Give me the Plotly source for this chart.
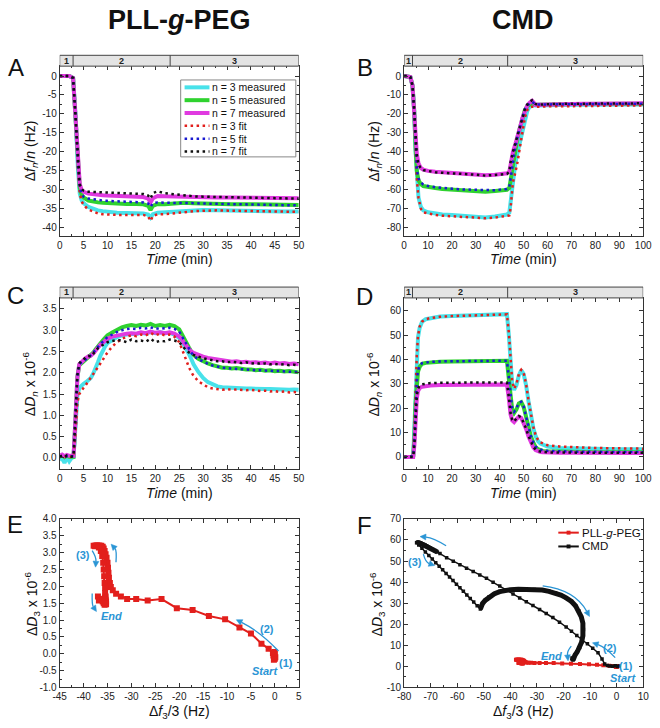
import plotly.graph_objects as go

W, H = 660, 728
def px(v): return v / W
def py(v): return 1 - v / H

# ---------------- DATA ----------------
phases_pll = [0, 2.8, 23.1, 50]
phases_cmd = [0, 3.5, 43.3, 100]

# Panel A: PLL-g-PEG frequency (Hz)
ta = [0, 1, 2, 2.8, 3.3, 3.8, 4.2, 4.6, 5, 6, 7, 8, 9, 10, 12, 14, 16, 17.5, 18.5, 19, 19.5,
      20.5, 22, 24, 26, 28, 30, 33, 36, 40, 44, 47, 50]
a_n3_meas = [0, 0, 0, -0.5, -10, -24, -31, -32.8, -33.5, -34.5, -35, -35.4, -35.6, -35.8, -36, -36.1, -36.1,
             -36.2, -36.5, -37.3, -36.4, -36.0, -35.9, -35.7, -35.5, -35.4, -35.3, -35.4, -35.5, -35.5, -35.6, -35.7, -35.7]
a_n5_meas = [0, 0, 0, -0.5, -10, -23, -29.5, -31.3, -32, -32.8, -33.1, -33.3, -33.4, -33.5, -33.6, -33.7, -33.7,
             -33.8, -34.2, -35.3, -34.2, -33.7, -33.8, -33.6, -33.4, -33.5, -33.6, -33.7, -33.8, -33.8, -33.9, -34.0, -34.0]
a_n7_meas = [0, 0, 0, -0.5, -10, -22, -28.5, -30, -30.5, -31, -31.2, -31.3, -31.4, -31.5, -31.6, -31.7, -31.8,
             -31.9, -32.3, -33.3, -32.2, -31.6, -31.7, -31.8, -31.8, -31.9, -31.9, -32.0, -32.0, -32.1, -32.1, -32.2, -32.2]
a_n3_fit = [0, 0, 0, -0.5, -10, -24, -31, -33, -34, -35.2, -35.8, -36.2, -36.4, -36.5, -36.6, -36.6, -36.5,
            -36.6, -37.0, -38.2, -36.9, -36.4, -36.4, -36.2, -35.9, -35.6, -35.5, -35.4, -35.5, -35.6, -35.8, -35.8, -35.8]
a_n5_fit = [0, 0, 0, -0.5, -10, -23, -29.5, -31, -31.8, -32.3, -32.5, -32.7, -32.8, -32.9, -33.0, -33.1, -33.2,
            -33.3, -33.6, -34.5, -33.5, -33.3, -33.4, -33.4, -33.4, -33.5, -33.6, -33.7, -33.8, -33.9, -34.0, -34.0, -34.1]
a_n7_fit = [0, 0, 0, -0.5, -10, -22, -28.5, -29.8, -30.2, -30.5, -30.5, -30.5, -30.6, -30.7, -30.8, -30.9, -31.0,
            -31.1, -31.5, -32.3, -30.8, -30.4, -30.9, -31.2, -31.5, -31.7, -31.8, -31.9, -32.0, -32.1, -32.2, -32.2, -32.3]

# Panel B: CMD frequency (Hz)
tb = [0, 1, 2, 2.6, 3.5, 4.2, 4.8, 5.3, 6, 7, 8, 10, 13, 16, 20, 25, 30, 34, 38, 41, 43, 44, 44.5, 45.5,
      46.5, 47.5, 48.5, 49.5, 50.5, 51.5, 52.5, 53.5, 55, 57, 60, 65, 70, 75, 80, 85, 90, 95, 100]
b_n3_meas = [0, 0, 0, -0.5, -5, -18, -40, -55, -64, -69, -70.8, -71.8, -72.6, -73, -73.2, -73.5, -74, -74.5, -74,
             -73.3, -73, -72, -66, -53, -46, -40, -34, -28, -22.5, -18.5, -16, -15.3, -15.5, -15.4, -15.3, -15.2,
             -15.2, -15.1, -15.1, -15.0, -15.0, -15.0, -15.0]
b_n5_meas = [0, 0, 0, -0.5, -5, -18, -38, -50, -55, -57, -58, -58.6, -59, -59.5, -59.8, -60.2, -60.5, -61, -60.6,
             -60.2, -60, -59, -55, -45, -38, -32, -27, -22, -18, -16, -14.8, -14, -15.2, -15.1, -15.0, -14.9,
             -14.8, -14.8, -14.7, -14.7, -14.7, -14.6, -14.6]
b_n7_meas = [0, 0, 0, -0.5, -5, -18, -32, -41, -46, -48.5, -49.3, -50, -50.5, -50.8, -51, -51.3, -51.8, -52.3, -52,
             -51.5, -51.3, -50.5, -46, -40, -36, -32, -27, -22, -18, -15.5, -14, -13, -15.2, -15.1, -14.9, -14.8,
             -14.7, -14.6, -14.6, -14.5, -14.5, -14.5, -14.4]
b_n3_fit = [0, 0, 0, -0.5, -5, -17, -38, -54, -64, -70, -71.8, -72.5, -73.2, -73.6, -74, -74.3, -74.6, -75, -74.6,
            -74, -73.8, -73.5, -70, -56, -51, -45, -37, -29, -22, -18, -16.5, -16.2, -16.3, -16.2, -16.0, -15.9,
            -15.8, -15.8, -15.7, -15.6, -15.6, -15.5, -15.5]
b_n5_fit = [0, 0, 0, -0.5, -5, -18, -37, -49, -54, -56, -57.2, -58, -58.6, -59, -59.4, -59.8, -60, -60.4, -60.2,
            -59.8, -59.6, -58.5, -54, -44.5, -37.5, -31.5, -26.5, -21.5, -17.5, -15.5, -14.5, -13.6, -15, -15,
            -14.9, -14.9, -14.8, -14.8, -14.7, -14.7, -14.7, -14.6, -14.6]
b_n7_fit = [0, 0, 0, -0.5, -5, -18, -32, -41.5, -46.5, -48.8, -49.6, -50.2, -50.7, -51, -51.2, -51.6, -52, -52.5,
            -52.2, -51.8, -51.6, -50.5, -45.5, -40, -35.5, -31.5, -26.5, -21.5, -17.5, -15, -13.5, -12.8, -14.8,
            -15.0, -14.8, -14.7, -14.6, -14.6, -14.5, -14.5, -14.4, -14.4, -14.4]

# Panel C: PLL-g-PEG dissipation (x 1e-6)
tc = [0, 0.5, 1, 1.5, 2, 2.5, 2.9, 3.3, 3.7, 4.1, 4.5, 5, 5.5, 6, 6.5, 7, 7.5, 8, 8.5, 9, 9.5, 10,
      11, 12, 13, 14, 15, 16, 17, 18, 19, 20, 21, 22, 23, 24, 25, 25.5, 26, 26.5, 27, 27.5, 28,
      29, 30, 31, 32, 33, 34, 35, 36, 37, 38, 39, 40, 41, 42, 43, 44, 45, 46, 47, 48, 49, 50]
c_n3_meas = [-0.05, 0.0, -0.12, 0.02, -0.08, 0.0, 0.02, 0.7, 1.45, 1.65, 1.7,
             1.74, 1.78, 1.82, 1.88, 1.98, 2.1, 2.25, 2.4, 2.53, 2.62, 2.7,
             2.78, 2.84, 2.88, 2.9, 2.92, 2.91, 2.94, 2.92, 2.96, 2.93, 2.95, 2.93, 2.94, 2.9, 2.82,
             2.75, 2.66, 2.56, 2.45, 2.33, 2.2,
             2.02, 1.88, 1.78, 1.72, 1.68, 1.66, 1.65, 1.64, 1.65, 1.64, 1.63, 1.63, 1.62, 1.63, 1.62,
             1.62, 1.61, 1.62, 1.61, 1.6, 1.61, 1.6]
c_n5_meas = [0.03, 0.06, 0.02, 0.05, 0.03, 0.04, 0.03, 0.9, 1.9, 2.18, 2.22,
             2.26, 2.3, 2.35, 2.4, 2.47, 2.55, 2.63, 2.7, 2.76, 2.82, 2.88,
             2.95, 3.02, 3.07, 3.1, 3.12, 3.1, 3.13, 3.11, 3.15, 3.1, 3.12, 3.1, 3.13, 3.1, 3.02,
             2.92, 2.8, 2.7, 2.6, 2.5, 2.42,
             2.33, 2.27, 2.22, 2.18, 2.15, 2.12, 2.12, 2.1, 2.11, 2.09, 2.08, 2.08, 2.06, 2.07, 2.05,
             2.06, 2.04, 2.05, 2.03, 2.04, 2.02, 2.01]
c_n7_meas = [0.05, 0.08, 0.04, 0.07, 0.05, 0.06, 0.05, 0.9, 1.9, 2.2, 2.25,
             2.3, 2.35, 2.38, 2.4, 2.45, 2.52, 2.6, 2.66, 2.7, 2.75, 2.8,
             2.85, 2.88, 2.9, 2.92, 2.93, 2.92, 2.95, 2.93, 2.97, 2.94, 2.95, 2.93, 2.95, 2.92, 2.85,
             2.8, 2.7, 2.62, 2.55, 2.5, 2.47,
             2.42, 2.38, 2.35, 2.33, 2.3, 2.28, 2.28, 2.26, 2.27, 2.25, 2.26, 2.24, 2.25, 2.23, 2.24,
             2.22, 2.24, 2.22, 2.23, 2.21, 2.22, 2.2]
c_n3_fit = [0.02, 0.04, 0.0, 0.05, 0.02, 0.03, 0.03, 0.6, 1.3, 1.5, 1.58,
            1.65, 1.72, 1.8, 1.88, 1.95, 2.03, 2.12, 2.2, 2.3, 2.4, 2.48,
            2.62, 2.72, 2.8, 2.85, 2.88, 2.86, 2.9, 2.88, 2.94, 2.88, 2.92, 2.88, 2.9, 2.85, 2.72,
            2.58, 2.42, 2.28, 2.14, 2.02, 1.93,
            1.8, 1.72, 1.66, 1.63, 1.62, 1.6, 1.62, 1.6, 1.61, 1.6, 1.59, 1.6, 1.58, 1.57, 1.58,
            1.56, 1.57, 1.55, 1.56, 1.54, 1.55, 1.53]
c_n5_fit = [0.02, 0.05, 0.03, 0.04, 0.02, 0.04, 0.03, 0.9, 1.92, 2.2, 2.24,
            2.28, 2.32, 2.36, 2.41, 2.47, 2.54, 2.62, 2.68, 2.73, 2.78, 2.84,
            2.9, 2.96, 3.0, 3.03, 3.04, 3.03, 3.06, 3.04, 3.07, 3.03, 3.05, 3.04, 3.06, 3.03, 2.97,
            2.88, 2.77, 2.67, 2.58, 2.48, 2.4,
            2.32, 2.26, 2.21, 2.17, 2.14, 2.12, 2.11, 2.1, 2.1, 2.08, 2.08, 2.07, 2.06, 2.06, 2.05,
            2.05, 2.04, 2.04, 2.03, 2.03, 2.02, 2.02]
c_n7_fit = [0.03, 0.05, 0.02, 0.06, 0.04, 0.03, 0.04, 0.9, 1.95, 2.22, 2.28,
            2.32, 2.36, 2.4, 2.38, 2.45, 2.5, 2.58, 2.62, 2.66, 2.68, 2.72,
            2.75, 2.77, 2.76, 2.72, 2.78, 2.74, 2.76, 2.73, 2.8, 2.72, 2.75, 2.74, 2.78, 2.76, 2.72,
            2.65, 2.58, 2.52, 2.48, 2.45, 2.42,
            2.38, 2.34, 2.32, 2.3, 2.27, 2.27, 2.25, 2.26, 2.24, 2.23, 2.25, 2.22, 2.23, 2.21, 2.22,
            2.2, 2.21, 2.19, 2.2, 2.18, 2.19, 2.17]

# Panel D: CMD dissipation (x 1e-6)
td = [0, 1, 2, 3, 3.8, 4.3, 4.8, 5.3, 5.8, 6.5, 7.5, 9, 11, 15, 20, 25, 30, 35, 40, 43, 43.8, 44.5, 45.2,
      46, 47, 48, 49, 50, 51, 52, 53, 54, 55, 56, 57, 58, 60, 65, 70, 75, 80, 85, 90, 95, 100]
d_n3_meas = [0, 0, 0, 0, 0.5, 12, 30, 42, 49, 53, 55.5, 56.5, 57, 57.6, 57.8, 58, 58.2, 58.3, 58.5, 58.6,
             50, 38, 30, 27.5, 29.5, 33.5, 35.6, 34, 29.5, 23, 17, 12, 8.5, 6.5, 5.5, 5, 4.3, 3.7, 3.5, 3.4,
             3.3, 3.3, 3.2, 3.2, 3.2]
d_n5_meas = [0, 0, 0, 0, 0.5, 8, 22, 31, 35, 37, 38.2, 38.6, 38.9, 39.1, 39.2, 39.3, 39.4, 39.4, 39.5, 39.5,
             32, 24, 19.5, 18, 19.5, 22, 22.5, 20.5, 16, 12, 8.5, 6, 4, 3.2, 2.8, 2.5, 2.3, 2.1, 2.0, 2.0,
             1.9, 1.9, 1.9, 1.9, 1.9]
d_n7_meas = [0, 0, 0, 0, 0, 5, 17, 24, 27, 28.3, 28.8, 29.1, 29.3, 29.5, 29.6, 29.7, 29.7, 29.7, 29.7, 29.7,
             24, 17.5, 15, 14.3, 15.5, 16.5, 16, 14, 11.5, 8.5, 6, 4, 2.8, 2.2, 2.0, 1.9, 1.8, 1.7, 1.7, 1.6,
             1.6, 1.6, 1.6, 1.6, 1.6]
d_n3_fit = [0, 0, 0, 0, 0.3, 11, 29, 42, 49.5, 53.5, 55.5, 56.5, 57, 57.5, 57.8, 58, 58.1, 58.2, 58.4, 58.5,
            51, 39, 31, 28, 30, 34, 35.8, 34.5, 30, 23.5, 17.5, 12.5, 9, 7, 6, 5.5, 4.8, 4.3, 4.0, 3.8,
            3.7, 3.6, 3.5, 3.5, 3.4]
d_n5_fit = [0, 0, 0, 0, 0.3, 7.5, 21.5, 31, 35.5, 37.5, 38.5, 38.8, 39, 39.2, 39.3, 39.4, 39.4, 39.5, 39.5, 39.5,
            32.5, 24.5, 20, 18.5, 20, 22.3, 22.6, 20.6, 16.2, 12.2, 8.7, 6.2, 4.3, 3.5, 3.0, 2.7, 2.5, 2.3, 2.2,
            2.1, 2.1, 2.0, 2.0, 2.0, 2.0]
d_n7_fit = [0, 0, 0, 0, 0, 5, 18, 25, 28, 29.3, 29.8, 30.1, 30.3, 30.4, 30.5, 30.5, 30.6, 30.6, 30.6, 30.5,
            24.5, 18, 15.2, 14.5, 15.8, 16.8, 16.2, 14.2, 11.7, 8.7, 6.2, 4.2, 3.0, 2.4, 2.2, 2.0, 1.9, 1.8,
            1.8, 1.7, 1.7, 1.7, 1.7, 1.7, 1.7]

# Panel E / F: PLL-g-PEG  Δf3/3 vs ΔD3
pll_df = [0.0, -0.2, 0.1, -0.1, -0.3, 0.0, -0.2, -0.4,
          -1.3, -2.8, -5.0, -7.4, -10.4, -13.8, -17.2, -20.5, -23.7, -26.6, -29.0, -30.9, -32.2, -33.2, -33.9, -34.3,
          -34.5, -34.7, -34.8, -34.9, -35.0, -35.2, -35.4, -35.6, -35.8, -36.0, -36.3, -36.7, -37.1, -37.5, -37.9, -37.6, -37.2,
          -36.8, -36.4, -36.1, -35.9, -35.8, -35.7, -35.6, -35.5, -35.5, -35.4, -35.5, -35.6, -35.5, -35.4,
          -35.3, -35.5, -35.6, -35.3, -35.7, -36.6, -37.0, -36.8, -36.0, -35.8, -35.5]
pll_dd = [-0.15, 0.0, -0.1, 0.05, -0.05, 0.0, -0.18, 0.02,
          0.15, 0.3, 0.6, 0.78, 1.02, 1.12, 1.3, 1.35, 1.62, 1.58, 1.62, 1.62, 1.7, 1.78, 1.88, 1.98,
          2.1, 2.25, 2.4, 2.55, 2.7, 2.85, 2.95, 3.05, 3.12, 3.17, 3.2, 3.21, 3.21, 3.21, 3.2, 3.19, 3.2,
          3.15, 3.05, 2.9, 2.7, 2.5, 2.3, 2.1, 1.95, 1.8, 1.7, 1.66, 1.64, 1.62, 1.6,
          1.55, 1.5, 1.45, 1.47, 1.6, 1.62, 1.7, 1.58, 1.55, 1.5, 1.48]

# Panel F: CMD path by phase
cmd_p1_df = [1.0, 0.3, -0.5, -1.5, -2.5, -3.5]
cmd_p1_dd = [0.2, 0.0, 0.3, 0.1, 0.2, 0.4]
cmd_p2a_df = [-4.5, -5.5, -7, -9, -11, -13, -15, -17, -19, -21.5, -24, -26.5, -29, -31.5, -34, -36.5, -39,
              -41.5, -44, -46.5, -49, -51.5, -54, -56.5, -59, -61.5, -64, -66.5]
cmd_p2a_dd = [1.2, 3.5, 6.5, 8.6, 10.7, 12.7, 14.7, 16.7, 18.7, 21.0, 23.2, 25.1, 27.0, 28.9, 30.7, 32.5, 34.3,
              36.2, 38.1, 39.9, 41.8, 43.4, 45.0, 46.6, 48.2, 49.9, 51.6, 53.5]
cmd_p2b_df = [-67.5, -68.5, -69.3, -70.1, -70.8, -71.5, -72.1, -72.7, -73.2, -73.6, -74.0, -74.4, -74.8, -75.1, -75.3]
cmd_p2b_dd = [54.3, 55.0, 55.6, 56.2, 56.7, 57.2, 57.6, 57.9, 58.2, 58.4, 58.6, 58.7, 58.8, 58.8, 58.7]
cmd_p3a_df = [-74.5, -73.3, -72.0, -70.7, -69.4, -68.1, -66.8, -65.5, -64.2, -62.9, -61.6, -60.3, -59.0, -57.7,
              -56.4, -55.1, -53.8, -52.5, -51.3]
cmd_p3a_dd = [57.6, 56.0, 54.3, 52.6, 50.9, 49.2, 47.5, 45.8, 44.1, 42.4, 40.7, 39.0, 37.3, 35.6, 33.9, 32.2,
              30.5, 28.8, 27.2]
cmd_p3b_df = [-51.0, -50.5, -49.5, -48.0, -46.0, -44.0, -42.0, -40.0, -37.0, -34.0, -31.0, -28.0, -25.5, -23.0,
              -21.0, -19.0, -17.0, -15.5, -14.2, -13.3, -12.7, -12.5, -12.7, -13.2, -13.9, -14.8, -15.7, -16.3,
              -16.6, -16.4, -16.8]
cmd_p3b_dd = [28.5, 29.8, 31.3, 33.0, 34.5, 35.5, 36.1, 36.4, 36.6, 36.6, 36.5, 36.2, 35.6, 34.8, 33.8, 32.5,
              30.8, 28.8, 26.3, 23.5, 20.5, 17.5, 14.5, 11.5, 9.0, 7.0, 5.3, 4.2, 3.4, 3.0, 4.0]

# Tick values
ticks_t50 = [0, 5, 10, 15, 20, 25, 30, 35, 40, 45, 50]
ticks_t100 = [0, 10, 20, 30, 40, 50, 60, 70, 80, 90, 100]
ticks_a_y = [0, -5, -10, -15, -20, -25, -30, -35, -40]
ticks_b_y = [0, -10, -20, -30, -40, -50, -60, -70, -80]
ticks_c_y = [0.0, 0.5, 1.0, 1.5, 2.0, 2.5, 3.0, 3.5]
ticks_d_y = [0, 10, 20, 30, 40, 50, 60]
ticks_e_x = [-45, -40, -35, -30, -25, -20, -15, -10, -5, 0, 5]
ticks_e_y = [-1.0, -0.5, 0.0, 0.5, 1.0, 1.5, 2.0, 2.5, 3.0, 3.5, 4.0]
ticks_f_x = [-80, -70, -60, -50, -40, -30, -20, -10, 0, 10]
ticks_f_y = [-10, 0, 10, 20, 30, 40, 50, 60, 70]

legend_names = ["n = 3 measured", "n = 5 measured", "n = 7 measured", "n = 3 fit", "n = 5 fit", "n = 7 fit"]

# ---------------- STYLE ----------------
CYAN = '#48e2ea'
GREEN = '#2fd22f'
MAGENTA = '#e03ae0'
RED = '#e21f1c'
BLUE = '#1a1ad0'
BLACK = '#111111'
ARROW = '#2a95d5'
FONT = "Liberation Sans, Arial, sans-serif"
MEAS_W = 4
DOT = dict(width=2.5, dash='2.5px,3.5px')

fig = go.Figure()

def add_time_panel(xa, ya, t, meas, fits):
    for vals, col in zip(meas, [CYAN, GREEN, MAGENTA]):
        fig.add_trace(go.Scatter(x=t, y=vals, mode='lines', line=dict(color=col, width=MEAS_W),
                                 xaxis=xa, yaxis=ya, hoverinfo='skip'))
    for vals, col in zip(fits, [RED, BLUE, BLACK]):
        fig.add_trace(go.Scatter(x=t, y=vals, mode='lines', line=dict(color=col, **DOT),
                                 xaxis=xa, yaxis=ya, hoverinfo='skip'))

add_time_panel('x', 'y', ta, [a_n3_meas, a_n5_meas, a_n7_meas], [a_n3_fit, a_n5_fit, a_n7_fit])
add_time_panel('x2', 'y2', tb, [b_n3_meas, b_n5_meas, b_n7_meas], [b_n3_fit, b_n5_fit, b_n7_fit])
add_time_panel('x3', 'y3', tc, [c_n3_meas, c_n5_meas, c_n7_meas], [c_n3_fit, c_n5_fit, c_n7_fit])
add_time_panel('x4', 'y4', td, [d_n3_meas, d_n5_meas, d_n7_meas], [d_n3_fit, d_n5_fit, d_n7_fit])

# Panel E
fig.add_trace(go.Scatter(x=pll_df, y=pll_dd, mode='lines+markers', xaxis='x5', yaxis='y5',
                         line=dict(color=RED, width=2), marker=dict(symbol='square', size=6, color=RED),
                         hoverinfo='skip'))
# Panel F
fig.add_trace(go.Scatter(x=pll_df, y=pll_dd, mode='lines+markers', xaxis='x6', yaxis='y6',
                         line=dict(color=RED, width=2), marker=dict(symbol='square', size=4, color=RED),
                         hoverinfo='skip'))
cmd_df = cmd_p1_df + cmd_p2a_df + cmd_p2b_df + cmd_p3a_df + cmd_p3b_df
cmd_dd = cmd_p1_dd + cmd_p2a_dd + cmd_p2b_dd + cmd_p3a_dd + cmd_p3b_dd
fig.add_trace(go.Scatter(x=cmd_df, y=cmd_dd, mode='lines+markers', xaxis='x6', yaxis='y6',
                         line=dict(color=BLACK, width=1.5), marker=dict(symbol='square', size=3.5, color=BLACK),
                         hoverinfo='skip'))
for sx, sy in [(cmd_p2b_df, cmd_p2b_dd), ([cmd_p3a_df[-1]] + cmd_p3b_df, [cmd_p3a_dd[-1]] + cmd_p3b_dd)]:
    fig.add_trace(go.Scatter(x=sx, y=sy, mode='lines', xaxis='x6', yaxis='y6',
                             line=dict(color=BLACK, width=5), hoverinfo='skip'))

# ---------------- AXES ----------------
colL = [px(54), px(299)]
colR = [px(407), px(652)]
row1 = [py(234), py(62)]
row2 = [py(470), py(297)]
row3 = [py(692), py(521)]

def fmt(v, dec):
    return f"{v:.{dec}f}"

def mk_axis(domain, rng, tv, dec, minor, anchor):
    return dict(domain=domain, range=rng, tickmode='array', tickvals=tv,
                ticktext=[fmt(v, dec) for v in tv],
                ticks='inside', ticklen=4, tickwidth=1, tickcolor='#333',
                showline=True, linecolor='#333', linewidth=1, mirror='ticks',
                showgrid=False, zeroline=False, anchor=anchor,
                tickfont=dict(size=10, color='#222', family=FONT),
                minor=dict(dtick=minor, tick0=0, ticks='inside', ticklen=2, tickcolor='#333', showgrid=False),
                fixedrange=True)

layout = dict(
    width=W, height=H, margin=dict(l=0, r=0, t=0, b=0), autosize=False,
    paper_bgcolor='white', plot_bgcolor='white', showlegend=False,
    font=dict(family=FONT, color='#111'),
    xaxis=mk_axis(colL, [0, 50], ticks_t50, 0, 2.5, 'y'),
    yaxis=mk_axis(row1, [-42.1, 2.6], ticks_a_y, 0, 2.5, 'x'),
    xaxis2=mk_axis(colR, [0, 100], ticks_t100, 0, 5, 'y2'),
    yaxis2=mk_axis(row1, [-84.2, 5.2], ticks_b_y, 0, 5, 'x2'),
    xaxis3=mk_axis(colL, [0, 50], ticks_t50, 0, 2.5, 'y3'),
    yaxis3=mk_axis(row2, [-0.25, 3.76], ticks_c_y, 1, 0.25, 'x3'),
    xaxis4=mk_axis(colR, [0, 100], ticks_t100, 0, 5, 'y4'),
    yaxis4=mk_axis(row2, [-4.75, 65.25], ticks_d_y, 0, 5, 'x4'),
    xaxis5=mk_axis(colL, [-45, 5], ticks_e_x, 0, 2.5, 'y5'),
    yaxis5=mk_axis(row3, [-1, 4], ticks_e_y, 1, 0.25, 'x5'),
    xaxis6=mk_axis(colR, [-80, 10], ticks_f_x, 0, 5, 'y6'),
    yaxis6=mk_axis(row3, [-10, 70], ticks_f_y, 0, 5, 'x6'),
)

shapes = []
annotations = []

def text(x, y, s, size, color='#111', xanchor='center', angle=0, **kw):
    annotations.append(dict(x=px(x), y=py(y), xref='paper', yref='paper', text=s, showarrow=False,
                            xanchor=xanchor, yanchor='middle', textangle=angle,
                            font=dict(size=size, color=color, family=FONT), **kw))

# Phase header bars
for xref, phases, ytop, ybot in [('x', phases_pll, 51, 62), ('x2', phases_cmd, 51, 62),
                                 ('x3', phases_pll, 286, 297), ('x4', phases_cmd, 286, 297)]:
    shapes.append(dict(type='rect', xref=xref, yref='paper', x0=phases[0], x1=phases[-1],
                       y0=py(ybot), y1=py(ytop), fillcolor='#e4e4e4', line=dict(color='#444', width=1)))
    for b in phases[1:-1]:
        shapes.append(dict(type='line', xref=xref, yref='paper', x0=b, x1=b, y0=py(ybot), y1=py(ytop),
                           line=dict(color='#444', width=1)))
    for i in range(len(phases) - 1):
        annotations.append(dict(x=(phases[i] + phases[i + 1]) / 2, y=py((ytop + ybot) / 2), xref=xref,
                                yref='paper', text=f"<b>{i + 1}</b>", showarrow=False,
                                xanchor='center', yanchor='middle', font=dict(size=9, color='#222', family=FONT)))

# Titles and panel letters
text(176.5, 15, "<b>PLL-<i>g</i>-PEG</b>", 27)
text(529, 15, "<b>CMD</b>", 27)
for lab, x, y in [('A', 9, 63), ('B', 366.5, 63), ('C', 9, 295), ('D', 366.5, 296), ('E', 8, 527), ('F', 366, 528)]:
    text(x, y, lab, 24)

# Axis titles
YF = "Δ<i>f<sub>n</sub></i>/<i>n</i> (Hz)"
YD = "Δ<i>D<sub>n</sub></i> x 10<sup>-6</sup>"
YD3 = "Δ<i>D</i><sub>3</sub> x 10<sup>-6</sup>"
XT = "<i>Time</i> (min)"
XF = "Δ<i>f</i><sub>3</sub>/3 (Hz)"
text(25, 148, YF, 14, angle=-90)
text(377, 148, YF, 14, angle=-90)
text(23, 384, YD, 14, angle=-90)
text(376, 384, YD, 14, angle=-90)
text(25, 607, YD3, 14, angle=-90)
text(379, 607, YD3, 14, angle=-90)
text(176.5, 258, XT, 14)
text(529.5, 258, XT, 14)
text(176.5, 495, XT, 14)
text(529.5, 495, XT, 14)
text(176.5, 717, XF, 14)
text(529.5, 717, XF, 14)

# Manual legend for panel A
shapes.append(dict(type='rect', xref='paper', yref='paper', x0=px(178), x1=px(296), y0=py(154), y1=py(76),
                   fillcolor='white', line=dict(color='#888', width=1)))
leg_cols = [CYAN, GREEN, MAGENTA, RED, BLUE, BLACK]
leg_y = [83.5, 96.5, 109.5, 122.5, 135.5, 148.5]
for i, (nm, col, yy) in enumerate(zip(legend_names, leg_cols, leg_y)):
    ln = dict(color=col, width=MEAS_W) if i < 3 else dict(color=col, **DOT)
    shapes.append(dict(type='line', xref='paper', yref='paper', x0=px(182), x1=px(207.5), y0=py(yy), y1=py(yy),
                       line=ln))
    text(208.5, yy, nm, 10.5, xanchor='left')

# Manual legend for panel F
for nm, col, yy in [("PLL-<i>g</i>-PEG", RED, 535), ("CMD", BLACK, 549)]:
    shapes.append(dict(type='line', xref='paper', yref='paper', x0=px(565), x1=px(586), y0=py(yy), y1=py(yy),
                       line=dict(color=col, width=2)))
    shapes.append(dict(type='rect', xref='paper', yref='paper', x0=px(573.5), x1=px(577.5), y0=py(yy + 2),
                       y1=py(yy - 2), fillcolor=col, line=dict(width=0)))
    text(587.5, yy, nm, 11.5, xanchor='left')

# Curved blue arrows (curve + filled triangular head)
def curved_arrow(x0, y0, cx, cy, x1, y1):
    dx, dy = x1 - cx, y1 - cy
    n = (dx * dx + dy * dy) ** 0.5
    ux, uy = dx / n, dy / n
    L, hw = 6.0, 3.0
    bx, by = x1 - ux * L, y1 - uy * L
    shapes.append(dict(type='path', xref='paper', yref='paper',
                       path=f"M {px(x0)},{py(y0)} Q {px(cx)},{py(cy)} {px(bx)},{py(by)}",
                       line=dict(color=ARROW, width=1.3)))
    p1 = (bx - uy * hw, by + ux * hw)
    p2 = (bx + uy * hw, by - ux * hw)
    shapes.append(dict(type='path', xref='paper', yref='paper',
                       path=(f"M {px(x1)},{py(y1)} L {px(p1[0])},{py(p1[1])} "
                             f"L {px(p2[0])},{py(p2[1])} Z"),
                       fillcolor=ARROW, line=dict(color=ARROW, width=0.5)))

# E arrows and labels
curved_arrow(278.3, 655, 259, 635, 235, 623.3)
curved_arrow(87.3, 553.3, 91.5, 560, 90.7, 570)
curved_arrow(111.7, 565, 112.5, 553, 106.7, 546.7)
curved_arrow(87.3, 596.7, 87, 608, 91.7, 615)
text(285.5, 666.7, "<b>(1)</b>", 11, ARROW)
text(264, 675, "<b><i>Start</i></b>", 11, ARROW)
text(266.7, 632.2, "<b>(2)</b>", 11, ARROW)
text(78, 558, "<b>(3)</b>", 11, ARROW)
text(107, 620, "<b><i>End</i></b>", 11, ARROW)

# F arrows and labels
curved_arrow(623.3, 661.7, 613, 651, 600, 646.7)
curved_arrow(578.3, 650, 574, 655, 575, 665)
curved_arrow(549, 589, 582, 593, 597, 620)
curved_arrow(450, 548.3, 437, 540, 423.3, 539)
curved_arrow(426.7, 556.7, 429, 565, 438.3, 568.3)
text(634, 670.5, "<b>(1)</b>", 11, ARROW)
text(631, 682.5, "<b><i>Start</i></b>", 11, ARROW)
text(618.3, 652.2, "<b>(2)</b>", 11, ARROW)
text(558.3, 660, "<b><i>End</i></b>", 11, ARROW)
text(418.3, 564.3, "<b>(3)</b>", 11, ARROW)

layout['shapes'] = shapes
layout['annotations'] = annotations
fig.update_layout(**layout)
# remove the browser's default 8px body margin so the figure sits at the page origin; hide the modebar
fig.write_html("out.html", config={'displayModeBar': False, 'staticPlot': True},
               post_script="document.body.style.margin='0px';")
